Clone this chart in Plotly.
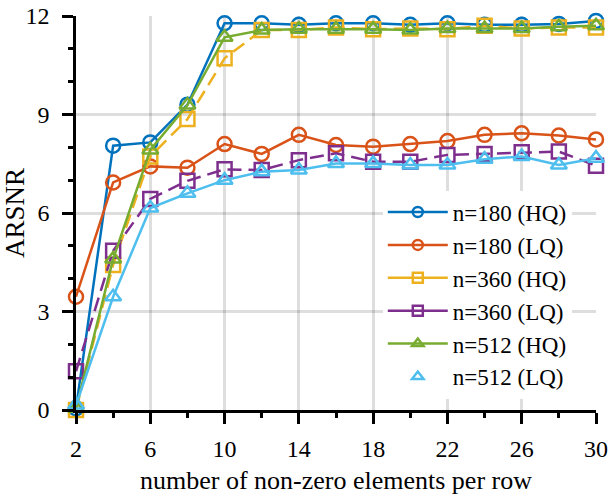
import plotly.graph_objects as go

x_vals = [2, 4, 6, 8, 10, 12, 14, 16, 18, 20, 22, 24, 26, 28, 30]
hq180 = [0.05, 8.05, 8.15, 9.3, 11.78, 11.78, 11.73, 11.78, 11.78, 11.73, 11.78, 11.73, 11.73, 11.76, 11.85]
lq180 = [3.45, 6.93, 7.42, 7.38, 8.1, 7.8, 8.38, 8.07, 8.02, 8.1, 8.19, 8.38, 8.43, 8.36, 8.24]
hq360 = [0.0, 4.42, 7.72, 8.86, 10.71, 11.57, 11.57, 11.65, 11.6, 11.62, 11.6, 11.7, 11.62, 11.65, 11.65]
lq360 = [1.18, 4.85, 6.43, 6.98, 7.33, 7.31, 7.61, 7.82, 7.56, 7.56, 7.77, 7.8, 7.85, 7.87, 7.44]
hq512 = [0.05, 4.6, 7.92, 9.29, 11.35, 11.57, 11.6, 11.6, 11.6, 11.57, 11.62, 11.62, 11.62, 11.67, 11.7]
lq512 = [0.15, 3.45, 6.15, 6.6, 7.0, 7.26, 7.31, 7.51, 7.51, 7.46, 7.46, 7.64, 7.72, 7.46, 7.67]

names = ["n=180 (HQ)", "n=180 (LQ)", "n=360 (HQ)", "n=360 (LQ)", "n=512 (HQ)", "n=512 (LQ)"]
series = [hq180, lq180, hq360, lq360, hq512, lq512]
colors = ["#0072BD", "#D95319", "#EDB120", "#7E2F8E", "#77AC30", "#4DBEEE"]
symbols = ["circle-open", "circle-open", "square-open", "square-open", "triangle-up-open", "triangle-up-open"]
dashes = ["solid", "solid", "14px,7px", "14px,7px", "solid", "solid"]

FONT = "'Liberation Serif', 'Times New Roman', serif"

fig = go.Figure()
for name, ys, c, s, d in zip(names, series, colors, symbols, dashes):
    fig.add_trace(go.Scatter(
        x=x_vals, y=ys, mode="lines+markers", name=name, showlegend=False,
        line=dict(color=c, width=2.5, dash=d),
        marker=dict(symbol=s, size=14, color=c, line=dict(width=2.5, color=c)),
        cliponaxis=False,
    ))
# legend entries
for i, (name, c, s, d) in enumerate(zip(names, colors, symbols, dashes)):
    fig.add_trace(go.Scatter(
        x=[None], y=[None], name=name,
        mode="markers" if i == 5 else "lines+markers",
        line=dict(color=c, width=2.5, dash="solid"),
        marker=dict(symbol=s, size=10, color=c, line=dict(width=2.5, color=c)),
    ))

fig.update_layout(
    width=613, height=499,
    margin=dict(l=76, r=17, t=16, b=89),
    paper_bgcolor="white", plot_bgcolor="white",
    font=dict(family=FONT, size=23, color="black"),
    showlegend=True,
    legend=dict(
        x=0.59, y=0.557, xanchor="left", yanchor="top",
        bgcolor="white", borderwidth=0,
        font=dict(family=FONT, size=23, color="black"),
        itemwidth=60, tracegroupgap=0,
    ),
    xaxis=dict(
        range=[2, 30], tickvals=[2, 6, 10, 14, 18, 22, 26, 30],
        automargin=False, ticklabeloverflow="allow",
        tickfont=dict(family=FONT, size=24),
        showline=True, linecolor="black", linewidth=2.5,
        ticks="outside", ticklen=11, tickwidth=2.5, tickcolor="black",
        ticklabelstandoff=4,
        showgrid=True, gridcolor="rgba(0,0,0,0.13)", gridwidth=3,
        zeroline=False,
        minor=dict(dtick=2, tick0=0, ticks="outside", ticklen=5, tickwidth=2.5,
                   tickcolor="black", showgrid=False),
        title=dict(text="number of non-zero elements per row", font=dict(family=FONT, size=26), standoff=11),
    ),
    yaxis=dict(
        range=[0, 12], tickvals=[0, 3, 6, 9, 12],
        automargin=False, ticklabeloverflow="allow",
        tickfont=dict(family=FONT, size=24),
        showline=True, linecolor="black", linewidth=2.5,
        ticks="outside", ticklen=11, tickwidth=2.5, tickcolor="black",
        ticklabelstandoff=8,
        showgrid=True, gridcolor="rgba(0,0,0,0.13)", gridwidth=3,
        zeroline=False,
        minor=dict(dtick=1, tick0=0, ticks="outside", ticklen=5, tickwidth=2.5,
                   tickcolor="black", showgrid=False),
        title=dict(text="ARSNR", font=dict(family=FONT, size=27), standoff=4),
    ),
    xaxis2=dict(
        overlaying="x", anchor="y2", range=[2, 30], dtick=2, tick0=0,
        showgrid=True, gridcolor="#8a8a8a", gridwidth=1.8, griddash="dot",
        showticklabels=False, ticks="", showline=False, zeroline=False,
    ),
    yaxis2=dict(
        overlaying="y", anchor="x2", range=[0, 12], dtick=1, tick0=0,
        showgrid=True, gridcolor="#8a8a8a", gridwidth=1.8, griddash="dot",
        showticklabels=False, ticks="", showline=False, zeroline=False,
    ),
)

fig.write_html("out.html", config={"displayModeBar": False},
               post_script="document.body.style.margin='0';")
